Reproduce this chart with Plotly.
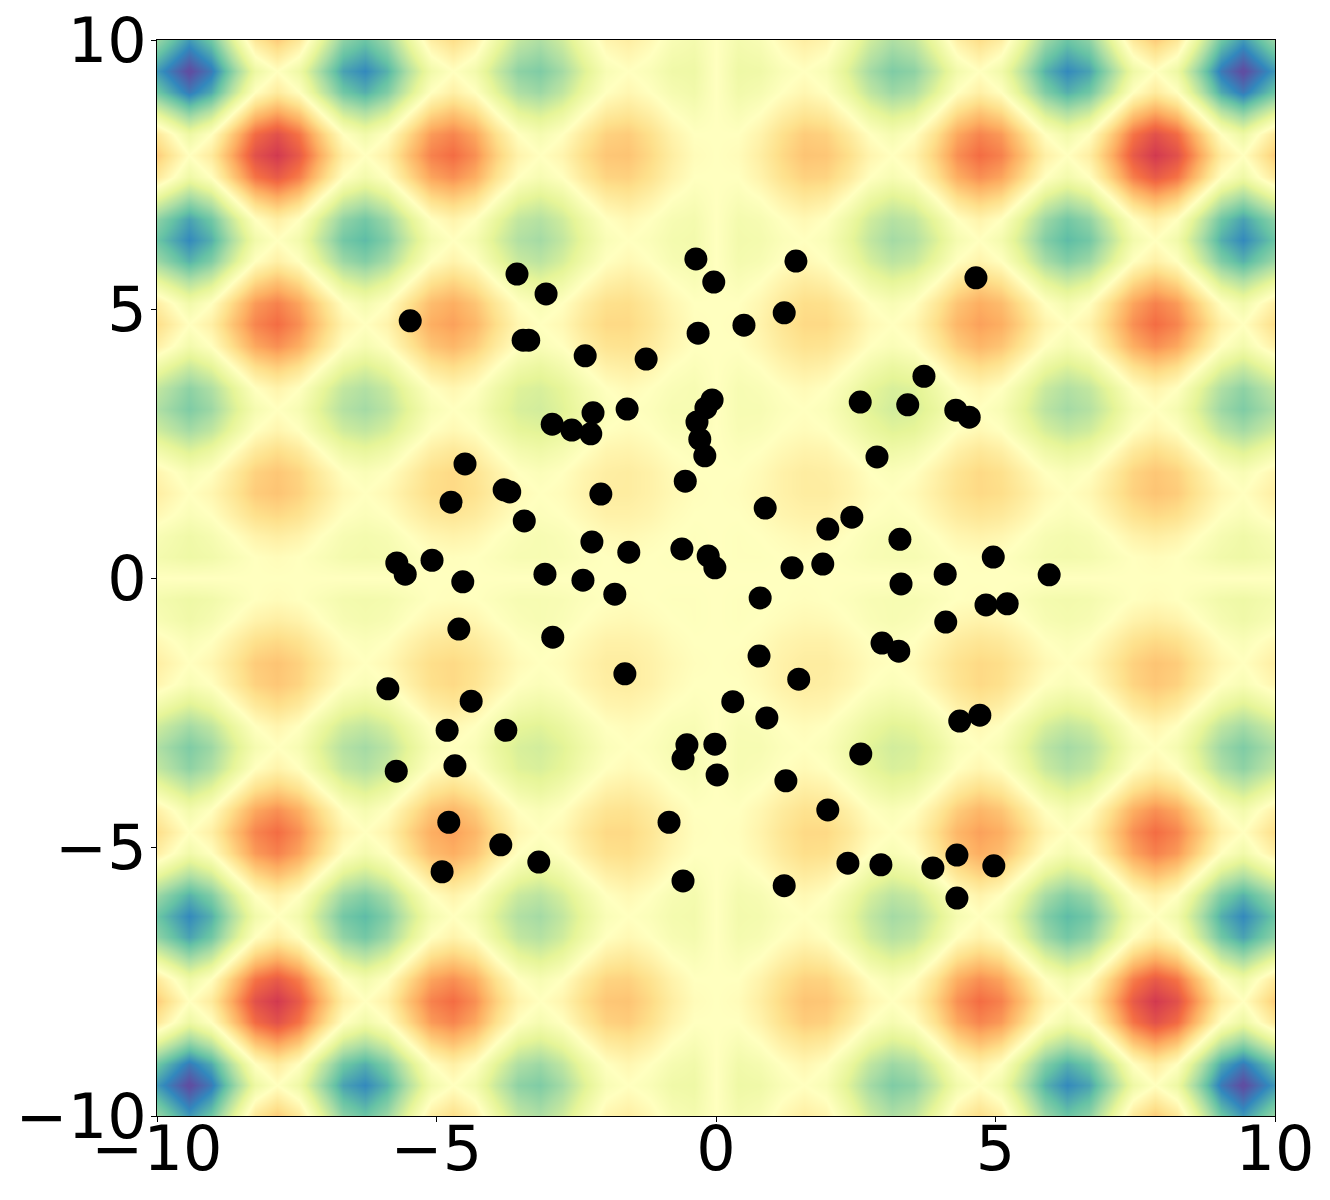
import plotly.graph_objects as go

# Grid nodes of one quadrant (the field is mirrored about both axes)
nodes = [0, .393, .785, 1.178, 1.571, 1.963, 2.356, 2.749, 3.142, 3.534, 3.927, 4.320, 4.712,
         5.105, 5.498, 5.890, 6.283, 6.676, 7.069, 7.461, 7.854, 8.247, 8.639, 9.032, 9.425, 10]

# Field values estimated from the picture's colours at those nodes.
# Upper triangle of the quadrant: each row starts on the diagonal, nodes[1] onward.
field_upper = [
 [-.01,-.01,0,.01,0,-.02,-.05,-.06,-.06,-.03,0,.01,0,-.04,-.08,-.09,-.08,-.04,0,.02,0,-.05,-.10,-.12,-.08],
 [0,.02,.04,.03,0,-.04,-.06,-.04,0,.05,.07,.05,0,-.06,-.08,-.06,0,.07,.10,.07,0,-.07,-.11,-.05],
 [.06,.08,.08,.04,0,-.02,0,.06,.12,.15,.13,.07,0,-.03,0,.08,.17,.21,.18,.09,0,-.04,.04],
 [.11,.11,.07,.02,0,.03,.10,.17,.21,.19,.12,.04,0,.04,.14,.24,.29,.26,.15,.05,0,.10],
 [.10,.06,0,-.03,0,.08,.16,.21,.18,.09,0,-.04,0,.11,.23,.28,.24,.12,0,-.05,.06],
 [0,-.07,-.11,-.08,0,.09,.14,.10,0,-.11,-.16,-.12,0,.13,.19,.13,0,-.14,-.21,-.09],
 [-.15,-.20,-.18,-.09,0,.04,0,-.12,-.24,-.30,-.26,-.14,0,.06,0,-.15,-.31,-.39,-.26],
 [-.25,-.23,-.15,-.04,0,-.05,-.18,-.32,-.39,-.34,-.21,-.06,0,-.07,-.23,-.41,-.49,-.36],
 [-.21,-.11,0,.05,0,-.13,-.28,-.35,-.30,-.16,0,.07,0,-.18,-.36,-.45,-.30],
 [0,.12,.19,.14,0,-.15,-.22,-.16,0,.17,.25,.18,0,-.19,-.28,-.12],
 [.26,.34,.29,.15,0,-.07,0,.18,.37,.46,.39,.20,0,-.09,.09],
 [.41,.37,.23,.07,0,.07,.26,.46,.56,.49,.30,.09,0,.19],
 [.32,.17,0,-.08,0,.20,.40,.50,.43,.22,0,-.10,.10],
 [0,-.18,-.27,-.20,0,.21,.31,.22,0,-.24,-.34,-.15],
 [-.38,-.48,-.41,-.21,0,.09,0,-.24,-.49,-.61,-.41],
 [-.58,-.52,-.31,-.09,0,-.10,-.35,-.62,-.74,-.54],
 [-.44,-.23,0,.10,0,-.26,-.53,-.66,-.45],
 [0,.25,.36,.26,0,-.28,-.40,-.17],
 [.51,.63,.54,.28,0,-.12,.13],
 [.76,.67,.40,.12,0,.26],
 [.57,.29,0,-.13,.14],
 [0,-.31,-.45,-.19],
 [-.64,-.79,-.53],
 [-.95,-.69],
 [-.42],
]

point_x = [-.36, -.04, 1.43, 4.65, -3.56, -3.04, -5.47, 1.22, .50, -.32, -3.45, -3.35, -2.34, -1.25, 3.72,
           -.07, -.18, 2.58, 3.43, 4.29, 4.53, -2.20, -1.59, -2.93, -2.58, -2.24, -.34, -.29, -.20, 2.88,
           -4.49, -.55, -3.79, -3.69, -2.06, -4.74, .88, -3.43, 2.43, 2.00, 3.29, -2.22, -1.56, -.61, -.14,
           -.02, -5.71, -5.56, -5.08, -3.06, -2.38, -4.53, 1.36, 1.91, 4.10, 5.96, 4.96, 3.31, -1.81, .79,
           4.83, 5.21, 4.11, -4.60, -2.92, 2.97, 3.27, .77, -1.63, 1.48, -5.87, -4.38, .30, 4.72, 4.36,
           .91, -4.81, -3.76, -.52, -.59, -.02, 2.59, -4.67, -5.72, .02, 1.25, 2.00, -4.78, -.84, -3.85,
           -3.17, -4.90, -.59, 2.36, 2.95, 4.31, 3.88, 4.97, 4.31, 1.22]
point_y = [5.93, 5.50, 5.89, 5.58, 5.65, 5.28, 4.78, 4.93, 4.70, 4.55, 4.42, 4.42, 4.13, 4.07, 3.75,
           3.31, 3.16, 3.27, 3.22, 3.12, 2.99, 3.07, 3.14, 2.86, 2.75, 2.68, 2.90, 2.58, 2.27, 2.25,
           2.12, 1.80, 1.64, 1.60, 1.56, 1.41, 1.30, 1.06, 1.13, .91, .72, .67, .48, .54, .41,
           .19, .28, .07, .33, .07, -.04, -.07, .19, .26, .07, .06, .39, -.11, -.30, -.37,
           -.50, -.48, -.82, -.95, -1.10, -1.21, -1.36, -1.45, -1.78, -1.88, -2.06, -2.29, -2.30, -2.55, -2.66,
           -2.60, -2.83, -2.83, -3.10, -3.36, -3.09, -3.27, -3.49, -3.59, -3.66, -3.77, -4.31, -4.54, -4.54, -4.96,
           -5.28, -5.46, -5.63, -5.30, -5.33, -5.15, -5.39, -5.35, -5.95, -5.72]

tick_values = [-10, -5, 0, 5, 10]

# Unfold the triangle into the quadrant, then mirror the quadrant about both axes
n = len(nodes)
quadrant = [[0.0] * n for _ in range(n)]
for i, row in enumerate(field_upper, start=1):
    for offset, value in enumerate(row):
        quadrant[i][i + offset] = value
        quadrant[i + offset][i] = value
axis_coords = [-v for v in nodes[:0:-1]] + nodes
half_rows = [row[:0:-1] + row for row in quadrant]
z = half_rows[:0:-1] + half_rows

fig = go.Figure()
fig.add_trace(go.Heatmap(x=axis_coords, y=axis_coords, z=z, colorscale="Spectral", reversescale=True,
                         zmin=-.93, zmax=.93, zsmooth="best", showscale=False))
fig.add_trace(go.Scatter(x=point_x, y=point_y, mode="markers",
                         marker=dict(color="black", size=23, line=dict(width=0)), showlegend=False))

axis_style = dict(range=[-10, 10], tickvals=tick_values, ticks="outside", ticklen=5, tickwidth=1,
                  tickcolor="black", showline=True, linecolor="black", linewidth=1, mirror=True,
                  showgrid=False, zeroline=False, automargin=False, ticklabeloverflow="allow",
                  tickfont=dict(family="DejaVu Sans", size=62, color="black"))
fig.update_xaxes(ticklabelstandoff=-26, **axis_style)
fig.update_yaxes(ticklabelstandoff=-8, **axis_style)
fig.update_layout(width=1322, height=1192, margin=dict(l=149, r=55, t=32, b=84), showlegend=False,
                  paper_bgcolor="white", plot_bgcolor="white")
fig.write_html("out.html")
